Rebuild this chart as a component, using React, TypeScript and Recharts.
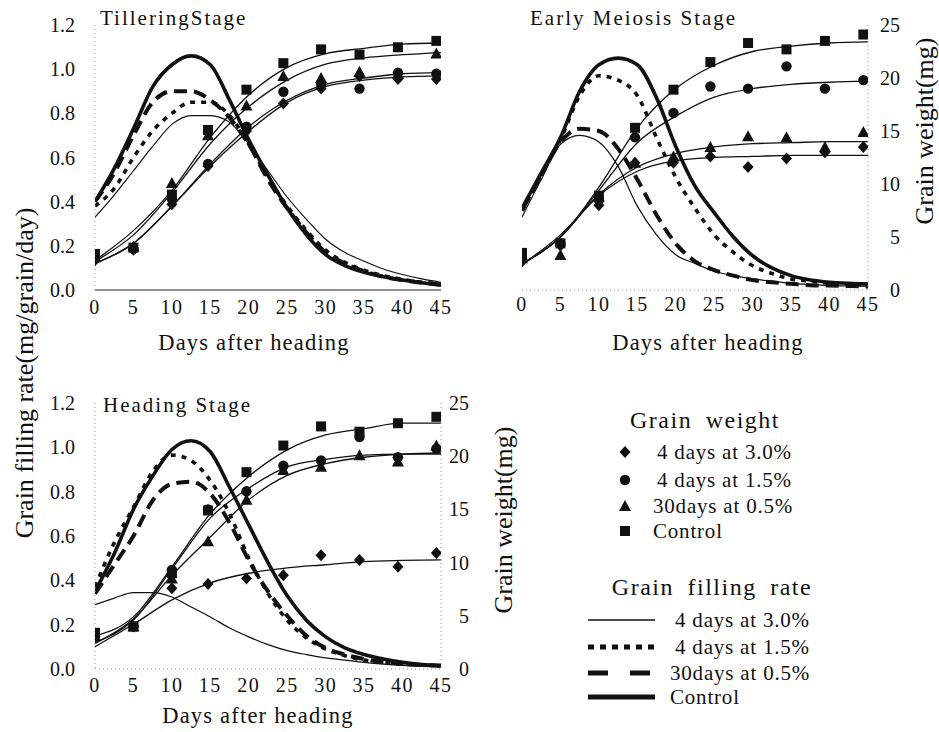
import { ComposedChart, Line, Scatter, XAxis, YAxis } from "recharts";

const FONT = "Liberation Serif";
const INK = "#111";

const RATE_DAYS = [0, 2.5, 5, 7.5, 10, 12.5, 15, 17.5, 20, 22.5, 25, 27.5, 30, 32.5, 35, 37.5, 40, 42.5, 45];
const FIT_DAYS = [0, 5, 10, 15, 20, 25, 30, 35, 40, 45];
const SAMPLE_DAYS = [0, 5, 10, 14.7, 19.7, 24.5, 29.4, 34.4, 39.4, 44.4];
const DAY_TICKS = [0, 5, 10, 15, 20, 25, 30, 35, 40, 45];
const RATE_TICKS = [0, 0.2, 0.4, 0.6, 0.8, 1.0, 1.2];
const WEIGHT_TICKS = [0, 5, 10, 15, 20, 25];

const SERIES = ["4 days at 3.0%", "4 days at 1.5%", "30days at 0.5%", "Control"];

// Tillering stage
const tilRateD3 = [0.33, 0.43, 0.54, 0.65, 0.75, 0.79, 0.79, 0.76, 0.66, 0.54, 0.42, 0.32, 0.23, 0.17, 0.13, 0.095, 0.07, 0.05, 0.035];
const tilRateD15 = [0.38, 0.46, 0.6, 0.72, 0.8, 0.85, 0.85, 0.79, 0.66, 0.51, 0.38, 0.27, 0.18, 0.125, 0.09, 0.065, 0.048, 0.035, 0.027];
const tilRateD05 = [0.4, 0.53, 0.7, 0.85, 0.9, 0.9, 0.86, 0.78, 0.66, 0.5, 0.37, 0.26, 0.17, 0.12, 0.085, 0.06, 0.045, 0.033, 0.025];
const tilRateCk = [0.4, 0.55, 0.73, 0.92, 1.02, 1.06, 1.02, 0.86, 0.68, 0.52, 0.37, 0.25, 0.16, 0.11, 0.08, 0.06, 0.045, 0.033, 0.022];
const tilFitD3 = [2.5, 4.4, 7.9, 11.7, 15.0, 17.7, 19.2, 19.8, 20.1, 20.2];
const tilFitD15 = [2.5, 4.4, 7.9, 11.9, 15.4, 17.9, 19.4, 20.0, 20.4, 20.5];
const tilFitD05 = [2.7, 5.2, 9.2, 13.8, 17.3, 19.8, 21.3, 21.9, 22.2, 22.4];
const tilFitCk = [2.8, 5.6, 9.4, 14.4, 18.4, 21.0, 22.3, 22.8, 23.2, 23.3];
const tilObsD3 = [2.8, 3.8, 8.1, 11.7, 15.0, 17.6, 19.0, 20.2, 19.9, 19.9];
const tilObsD15 = [3.1, 3.9, 8.6, 11.9, 15.4, 18.7, 19.4, 19.0, 20.5, 20.4];
const tilObsD05 = [3.1, 4.1, 10.1, 14.6, 17.4, 20.2, 20.0, 20.6, 20.4, 22.3];
const tilObsCk = [3.4, 4.0, 9.0, 15.1, 18.9, 21.4, 22.7, 22.2, 22.9, 23.5];

// Early meiosis stage
const meiRateD3 = [0.33, 0.5, 0.66, 0.7, 0.67, 0.56, 0.38, 0.25, 0.16, 0.12, 0.085, 0.065, 0.05, 0.04, 0.03, 0.025, 0.02, 0.018, 0.016];
const meiRateD15 = [0.36, 0.52, 0.68, 0.88, 0.97, 0.95, 0.88, 0.69, 0.51, 0.37, 0.25, 0.17, 0.11, 0.075, 0.05, 0.04, 0.03, 0.027, 0.025];
const meiRateD05 = [0.36, 0.52, 0.67, 0.73, 0.72, 0.64, 0.5, 0.34, 0.21, 0.13, 0.09, 0.065, 0.045, 0.035, 0.028, 0.022, 0.02, 0.018, 0.016];
const meiRateCk = [0.37, 0.53, 0.69, 0.9, 1.02, 1.05, 1.02, 0.87, 0.65, 0.47, 0.35, 0.24, 0.155, 0.1, 0.065, 0.045, 0.035, 0.03, 0.027];
const meiFitD3 = [2.4, 5.2, 8.9, 11.2, 12.2, 12.5, 12.6, 12.7, 12.7, 12.7];
const meiFitD15 = [2.5, 5.0, 9.4, 13.9, 16.4, 18.2, 19.0, 19.4, 19.6, 19.7];
const meiFitD05 = [2.4, 5.0, 9.0, 11.6, 12.9, 13.5, 13.8, 13.9, 14.0, 14.0];
const meiFitCk = [2.5, 5.0, 9.7, 15.3, 19.0, 21.2, 22.5, 23.0, 23.3, 23.4];
const meiObsD3 = [2.7, 4.2, 8.0, 12.0, 12.0, 12.6, 11.6, 12.4, 13.0, 13.5];
const meiObsD15 = [3.0, 4.4, 8.5, 14.4, 16.7, 19.2, 19.0, 21.1, 19.0, 19.8];
const meiObsD05 = [3.0, 3.3, 8.8, 12.0, 12.6, 13.5, 14.5, 14.4, 13.5, 14.9];
const meiObsCk = [3.5, 4.4, 8.9, 15.3, 18.9, 21.5, 23.3, 22.7, 23.5, 24.1];

// Heading stage
const hdRateD3 = [0.29, 0.32, 0.345, 0.345, 0.325, 0.28, 0.235, 0.185, 0.145, 0.11, 0.083, 0.065, 0.05, 0.04, 0.03, 0.022, 0.016, 0.012, 0.01];
const hdRateD15 = [0.37, 0.57, 0.73, 0.89, 0.965, 0.94, 0.85, 0.7, 0.5, 0.34, 0.22, 0.14, 0.09, 0.06, 0.04, 0.03, 0.022, 0.018, 0.015];
const hdRateD05 = [0.34, 0.47, 0.6, 0.76, 0.835, 0.845, 0.79, 0.66, 0.49, 0.35, 0.24, 0.15, 0.095, 0.065, 0.045, 0.032, 0.024, 0.018, 0.015];
const hdRateCk = [0.35, 0.52, 0.72, 0.87, 0.99, 1.03, 0.98, 0.82, 0.65, 0.48, 0.33, 0.22, 0.145, 0.095, 0.065, 0.045, 0.03, 0.02, 0.015];
const hdFitD3 = [2.1, 4.2, 6.5, 8.1, 9.0, 9.5, 9.8, 10.1, 10.2, 10.25];
const hdFitD15 = [2.5, 4.6, 9.4, 14.2, 17.0, 19.0, 19.7, 20.1, 20.2, 20.2];
const hdFitD05 = [2.4, 4.7, 8.8, 12.4, 15.9, 18.2, 19.3, 19.9, 20.2, 20.3];
const hdFitCk = [3.1, 4.9, 9.6, 14.6, 18.1, 20.6, 22.0, 22.6, 23.1, 23.1];
const hdObsD3 = [3.0, 4.0, 7.6, 8.0, 8.5, 8.8, 10.7, 10.25, 9.6, 10.9];
const hdObsD15 = [3.3, 4.0, 9.3, 15.0, 16.7, 19.1, 19.6, 21.8, 19.9, 20.7];
const hdObsD05 = [3.1, 4.0, 8.5, 12.0, 15.9, 18.7, 19.0, 20.1, 19.5, 21.0];
const hdObsCk = [3.4, 4.0, 9.0, 14.9, 18.5, 21.0, 22.8, 22.3, 23.1, 23.7];

type Four = [number[], number[], number[], number[]];

const rows = (xs: number[], ys: number[]) => xs.map((day, i) => ({ day, v: ys[i] }));

type MarkKind = "diamond" | "circle" | "triangle" | "square";
const MARKS: MarkKind[] = ["diamond", "circle", "triangle", "square"];

function Mark({ kind, cx, cy }: { kind: MarkKind; cx: number; cy: number }) {
  if (kind === "diamond")
    return <polygon points={`${cx},${cy - 6} ${cx + 5.5},${cy} ${cx},${cy + 6} ${cx - 5.5},${cy}`} fill={INK} />;
  if (kind === "circle") return <circle cx={cx} cy={cy} r={5.2} fill={INK} />;
  if (kind === "triangle")
    return <polygon points={`${cx},${cy - 6} ${cx + 6},${cy + 5} ${cx - 6},${cy + 5}`} fill={INK} />;
  return <rect x={cx - 5} y={cy - 5} width={10} height={10} fill={INK} />;
}

// line style per treatment: thin, dotted, long dash, thick
const RATE_STYLE = [
  { w: 1.2, dash: undefined },
  { w: 3.6, dash: "5 6" },
  { w: 4, dash: "13 7" },
  { w: 3.6, dash: undefined },
];

const tickFont = { fontSize: 20, fill: INK, style: { fontFamily: FONT } };

function RightTick(props: any) {
  const { x, y, payload, off } = props;
  return (
    <text x={x + off} y={y} dy="0.35em" textAnchor="end" fontSize={20} fill={INK} style={{ fontFamily: FONT }}>
      {payload.value}
    </text>
  );
}

function Panel({
  rate,
  fit,
  obs,
  box,
  margin,
  showLeft,
  showRight,
  rightWidth,
  rightOff,
  tickGap,
  solidX,
}: {
  rate: Four;
  fit: Four;
  obs: Four;
  box: { left: number; top: number; width: number; height: number };
  margin: { top: number; right: number; bottom: number; left: number };
  showLeft: boolean;
  showRight: boolean;
  rightWidth: number;
  rightOff: number;
  tickGap: number;
  solidX: boolean;
}) {
  const faint = { stroke: "#999", strokeDasharray: "1 3" };
  return (
    <div style={{ position: "absolute", left: box.left, top: box.top }}>
      <ComposedChart width={box.width} height={box.height} margin={margin}>
        <XAxis
          type="number"
          dataKey="day"
          domain={[0, 45]}
          ticks={DAY_TICKS}
          interval={0}
          allowDataOverflow
          height={40}
          tickSize={0}
          tickMargin={tickGap}
          tickLine={false}
          axisLine={solidX ? { stroke: "#222", strokeWidth: 1 } : faint}
          tick={{ ...tickFont, letterSpacing: 1.5 }}
        />
        <YAxis
          yAxisId="rate"
          type="number"
          domain={[0, 1.2]}
          ticks={RATE_TICKS}
          interval={0}
          hide={!showLeft}
          width={95}
          tickSize={0}
          tickMargin={20}
          tickLine={false}
          axisLine={faint}
          tickFormatter={(v: number) => v.toFixed(1)}
          tick={tickFont}
        />
        <YAxis
          yAxisId="w"
          orientation="right"
          type="number"
          domain={[0, 25]}
          ticks={WEIGHT_TICKS}
          interval={0}
          hide={!showRight}
          width={rightWidth}
          tickSize={0}
          tickMargin={0}
          tickLine={false}
          axisLine={faint}
          tick={(p: any) => <RightTick {...p} off={rightOff} />}
        />
        {rate.map((ys, i) => (
          <Line
            key={"r" + i}
            name={SERIES[i]}
            yAxisId="rate"
            data={rows(RATE_DAYS, ys)}
            dataKey="v"
            type="monotone"
            stroke={INK}
            strokeWidth={RATE_STYLE[i].w}
            strokeDasharray={RATE_STYLE[i].dash}
            dot={false}
            activeDot={false}
            isAnimationActive={false}
          />
        ))}
        {fit.map((ys, i) => (
          <Line
            key={"f" + i}
            name={SERIES[i]}
            yAxisId="w"
            data={rows(FIT_DAYS, ys)}
            dataKey="v"
            type="monotone"
            stroke={INK}
            strokeWidth={1.3}
            dot={false}
            activeDot={false}
            isAnimationActive={false}
          />
        ))}
        {obs.map((ys, i) => (
          <Scatter
            key={"o" + i}
            name={SERIES[i]}
            yAxisId="w"
            data={rows(SAMPLE_DAYS, ys)}
            dataKey="v"
            shape={(p: any) => <Mark kind={MARKS[i]} cx={p.cx} cy={p.cy} />}
            isAnimationActive={false}
          />
        ))}
      </ComposedChart>
    </div>
  );
}

const txt = { fill: INK, style: { fontFamily: FONT } };

function Overlay() {
  const markY = [452, 480, 506, 531];
  const lineY = [620, 647, 673, 697];
  const wTextX = [657, 657, 653, 653];
  const rTextX = [675, 675, 670, 670];
  const legendLines = [
    { w: 1.3, dash: undefined },
    { w: 5, dash: "6 6" },
    { w: 5, dash: "20 22" },
    { w: 5, dash: undefined },
  ];
  return (
    <svg width={939} height={732} style={{ position: "absolute", left: 0, top: 0, pointerEvents: "none" }}>
      <text {...txt} fontSize={26} textAnchor="middle" dominantBaseline="central" transform="translate(24,373) rotate(-90)">
        Grain filling rate(mg/grain/day)
      </text>
      <text {...txt} fontSize={26} textAnchor="middle" dominantBaseline="central" transform="translate(924,131) rotate(-90)">
        Grain weight(mg)
      </text>
      <text {...txt} fontSize={26} textAnchor="middle" dominantBaseline="central" transform="translate(503,520) rotate(-90)">
        Grain weight(mg)
      </text>

      <text {...txt} fontSize={22.5} letterSpacing={1.2} textAnchor="middle" x={254} y={350}>Days after heading</text>
      <text {...txt} fontSize={22.5} letterSpacing={1.2} textAnchor="middle" x={708} y={350}>Days after heading</text>
      <text {...txt} fontSize={22.5} letterSpacing={1.2} textAnchor="middle" x={258} y={723}>Days after heading</text>

      <text {...txt} fontSize={21} letterSpacing={2} x={100} y={25}>TilleringStage</text>
      <text {...txt} fontSize={21} letterSpacing={2} x={530} y={25}>Early Meiosis Stage</text>
      <text {...txt} fontSize={21} letterSpacing={2} x={103} y={412}>Heading Stage</text>

      <text {...txt} fontSize={24} letterSpacing={1.5} wordSpacing={6} textAnchor="middle" x={705} y={428}>Grain weight</text>
      {SERIES.map((s, i) => (
        <g key={"wl" + i}>
          <Mark kind={MARKS[i]} cx={625} cy={markY[i]} />
          <text {...txt} fontSize={21} letterSpacing={0.8} x={wTextX[i]} y={markY[i] + 7}>{s}</text>
        </g>
      ))}

      <text {...txt} fontSize={24} letterSpacing={1.5} wordSpacing={6} textAnchor="middle" x={712} y={595}>Grain filling rate</text>
      {SERIES.map((s, i) => (
        <g key={"rl" + i}>
          <line x1={588} x2={655} y1={lineY[i]} y2={lineY[i]} stroke={INK} strokeWidth={legendLines[i].w} strokeDasharray={legendLines[i].dash} />
          <text {...txt} fontSize={21} letterSpacing={0.8} x={rTextX[i]} y={lineY[i] + 7}>{s}</text>
        </g>
      ))}
    </svg>
  );
}

export default function App() {
  return (
    <div style={{ position: "absolute", left: 0, top: 0, width: 939, height: 732, background: "#fff", fontFamily: FONT }}>
      <Panel
        rate={[tilRateD3, tilRateD15, tilRateD05, tilRateCk]}
        fit={[tilFitD3, tilFitD15, tilFitD05, tilFitCk]}
        obs={[tilObsD3, tilObsD15, tilObsD05, tilObsCk]}
        box={{ left: 0, top: 0, width: 470, height: 330 }}
        margin={{ top: 25, right: 29, bottom: 0, left: 0 }}
        showLeft
        showRight={false}
        rightWidth={0}
        rightOff={0}
        tickGap={10}
        solidX
      />
      <Panel
        rate={[meiRateD3, meiRateD15, meiRateD05, meiRateCk]}
        fit={[meiFitD3, meiFitD15, meiFitD05, meiFitCk]}
        obs={[meiObsD3, meiObsD15, meiObsD05, meiObsCk]}
        box={{ left: 470, top: 0, width: 469, height: 330 }}
        margin={{ top: 25, right: 0, bottom: 0, left: 52 }}
        showLeft={false}
        showRight
        rightWidth={71}
        rightOff={32}
        tickGap={7}
        solidX={false}
      />
      <Panel
        rate={[hdRateD3, hdRateD15, hdRateD05, hdRateCk]}
        fit={[hdFitD3, hdFitD15, hdFitD05, hdFitCk]}
        obs={[hdObsD3, hdObsD15, hdObsD05, hdObsCk]}
        box={{ left: 0, top: 360, width: 470, height: 349 }}
        margin={{ top: 43, right: 0, bottom: 0, left: 0 }}
        showLeft
        showRight
        rightWidth={29}
        rightOff={28}
        tickGap={9}
        solidX={false}
      />
      <Overlay />
    </div>
  );
}
